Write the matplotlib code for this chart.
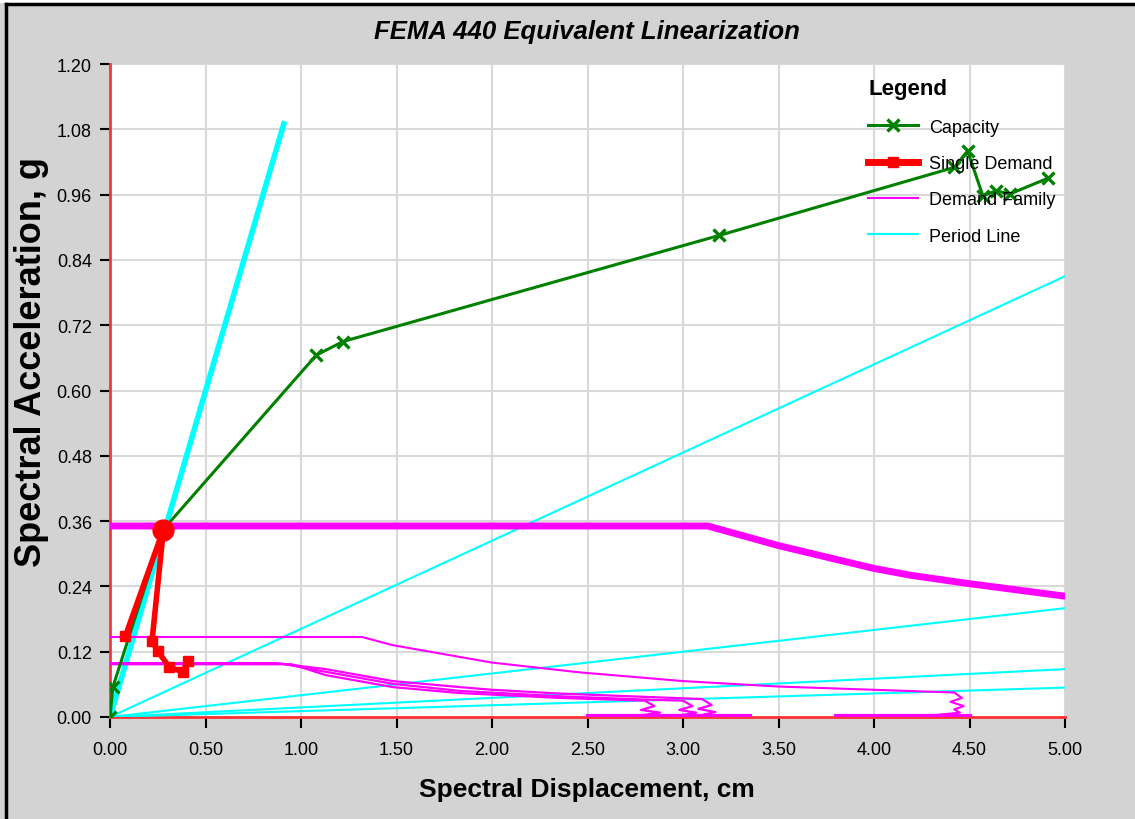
import matplotlib
matplotlib.use('Agg')
import matplotlib.pyplot as plt
from matplotlib.lines import Line2D
from matplotlib.patches import Rectangle

FONT = ['Liberation Sans', 'DejaVu Sans']

# capacity curve (Sd cm, Sa g)
cap_sd = [0.0, 0.015, 0.28, 1.08, 1.22, 3.19, 4.42, 4.49, 4.57, 4.64, 4.71, 4.91]
cap_sa = [0.0, 0.055, 0.345, 0.665, 0.690, 0.885, 1.010, 1.040, 0.958, 0.967, 0.961, 0.990]

# single demand trace
sd_sd = [0.08, 0.28, 0.22, 0.25, 0.31, 0.38, 0.41]
sd_sa = [0.148, 0.345, 0.140, 0.121, 0.092, 0.083, 0.103]
perf_pt = (0.28, 0.343)

# demand family
fam_main_sd = [0.0, 3.13, 3.5, 4.0, 4.2, 4.5, 5.0]
fam_main_sa = [0.351, 0.351, 0.315, 0.273, 0.260, 0.245, 0.222]

fam_a_sd = [0.0, 1.32, 1.48, 2.0, 2.46, 3.0, 3.5, 4.0, 4.42, 4.46, 4.40, 4.47, 4.42, 4.45, 4.30]
fam_a_sa = [0.147, 0.147, 0.132, 0.100, 0.082, 0.066, 0.056, 0.050, 0.045, 0.035, 0.028, 0.020, 0.014, 0.008, 0.003]

fam_b1_sd = [0.0, 0.87, 1.13, 1.48, 1.83, 2.0, 2.36, 2.8, 3.1, 3.15, 3.08, 3.17, 3.10, 3.20]
fam_b1_sa = [0.099, 0.099, 0.088, 0.066, 0.055, 0.050, 0.043, 0.037, 0.033, 0.022, 0.015, 0.009, 0.004, 0.002]
fam_b2_sd = [0.0, 0.90, 1.13, 1.48, 1.83, 2.36, 2.8, 3.0, 3.05, 2.98, 3.07, 3.0, 2.95]
fam_b2_sa = [0.098, 0.098, 0.083, 0.061, 0.048, 0.038, 0.032, 0.030, 0.020, 0.013, 0.008, 0.004, 0.002]
fam_b3_sd = [0.0, 0.95, 1.13, 1.48, 1.83, 2.36, 2.8, 2.85, 2.78, 2.88, 2.80, 2.75]
fam_b3_sa = [0.097, 0.097, 0.077, 0.055, 0.044, 0.035, 0.030, 0.020, 0.013, 0.008, 0.004, 0.002]

fam_base1_sd = [2.5, 3.35]
fam_base2_sd = [3.8, 4.5]
fam_base_sa = [0.002, 0.002]

# period lines: end points
per_sd = [0.91, 5.0, 5.0, 5.0, 5.0]
per_sa = [1.09, 0.81, 0.20, 0.088, 0.054]
per_lw = [4, 1.5, 1.5, 1.5, 1.5]

xticks = [0.0, 0.5, 1.0, 1.5, 2.0, 2.5, 3.0, 3.5, 4.0, 4.5, 5.0]
yticks = [0.0, 0.12, 0.24, 0.36, 0.48, 0.60, 0.72, 0.84, 0.96, 1.08, 1.20]

W, H = 1135, 820
fig = plt.figure(figsize=(W / 100, H / 100), dpi=100, facecolor='#d3d3d3')
ax = fig.add_axes([110 / W, 1 - 718 / H, (1065 - 110) / W, (718 - 65) / H])
ax.set_facecolor('white')

# frame around the figure (partly cropped in the original)
fig.patches.append(Rectangle((0, 1 - 4 / H), 1, 4 / H, transform=fig.transFigure,
                             facecolor='white', edgecolor='none', zorder=0))
fig.add_artist(Line2D([6 / W, 6 / W], [0, 1 - 5 / H], color='black', lw=2.5))
fig.add_artist(Line2D([6 / W, 1], [1 - 5 / H, 1 - 5 / H], color='black', lw=2.5))

# period lines
for x1, y1, lw in zip(per_sd, per_sa, per_lw):
    ax.plot([0, x1], [0, y1], color='#00ffff', lw=lw, zorder=2)

# demand family
mag = '#ff00ff'
ax.plot(fam_main_sd, fam_main_sa, color=mag, lw=5, zorder=3)
ax.plot(fam_a_sd, fam_a_sa, color=mag, lw=1.5, zorder=3)
for xs, ys in [(fam_b1_sd, fam_b1_sa), (fam_b2_sd, fam_b2_sa), (fam_b3_sd, fam_b3_sa)]:
    ax.plot(xs, ys, color=mag, lw=1.6, zorder=3)
ax.plot(fam_base1_sd, fam_base_sa, color=mag, lw=3, zorder=3)
ax.plot(fam_base2_sd, fam_base_sa, color=mag, lw=3, zorder=3)

# capacity
ax.plot(cap_sd, cap_sa, color='#008000', lw=2.2, marker='x', ms=9, mew=2.4, zorder=4)

# single demand
ax.plot(sd_sd, sd_sa, color='#ff0000', lw=4, marker='s', ms=7, zorder=5)
ax.plot(*perf_pt, 'o', color='#ff0000', ms=15, zorder=6)

ax.set_xlim(0, 5)
ax.set_ylim(0, 1.2)
ax.set_xticks(xticks)
ax.set_yticks(yticks)
ax.set_xticklabels([f'{v:.2f}' for v in xticks], family=FONT, fontsize=13)
ax.set_yticklabels([f'{v:.2f}' for v in yticks], family=FONT, fontsize=13)
ax.tick_params(axis='x', length=8, width=1.5, color='black', pad=9)
ax.tick_params(axis='y', length=7, width=1.5, color='black', pad=6)
ax.grid(True, color='#d9d9d9', lw=1.5, zorder=0)
ax.set_axisbelow(True)

for s in ['top', 'right']:
    ax.spines[s].set_visible(False)
for s in ['left', 'bottom']:
    ax.spines[s].set_color('#ff3333')
    ax.spines[s].set_linewidth(2)
    ax.spines[s].set_zorder(1)

fig.text(587 / W, 1 - 32 / H, 'FEMA 440 Equivalent Linearization', ha='center', va='center',
         family=FONT, fontsize=18.5, fontweight='bold', style='italic')
fig.text(587 / W, 1 - 790 / H, 'Spectral Displacement, cm', ha='center', va='center',
         family=FONT, fontsize=19, fontweight='bold')
fig.text(32 / W, 1 - 362 / H, 'Spectral Acceleration, g', ha='center', va='center', rotation=90,
         family=FONT, fontsize=26, fontweight='bold')

handles = [
    Line2D([], [], color='#008000', lw=2.2, marker='x', ms=9, mew=2.4),
    Line2D([], [], color='#ff0000', lw=5, marker='s', ms=7),
    Line2D([], [], color=mag, lw=1.5),
    Line2D([], [], color='#00ffff', lw=1.5),
]
labels = ['Capacity', 'Single Demand', 'Demand Family', 'Period Line']
leg = ax.legend(handles, labels, loc='upper left', bbox_to_anchor=(852 / W, 1 - 63 / H),
                bbox_transform=fig.transFigure, frameon=False, title='Legend',
                prop={'family': FONT, 'size': 13}, handlelength=2.75, handletextpad=0.6,
                labelspacing=1.07, alignment='left',
                title_fontproperties={'family': FONT, 'size': 16, 'weight': 'bold'})
leg.set_zorder(10)

fig.savefig('out.png', dpi=100, facecolor=fig.get_facecolor())
